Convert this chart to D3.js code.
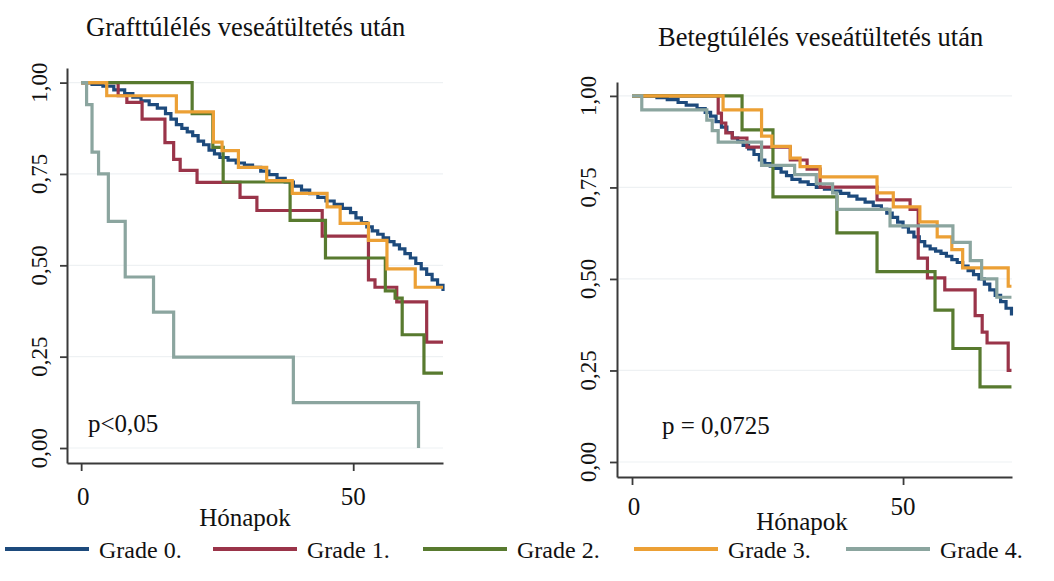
<!DOCTYPE html>
<html>
<head>
<meta charset="utf-8">
<script src="https://cdn.jsdelivr.net/npm/d3@7"></script>
<style>
  html, body { margin: 0; padding: 0; background: #fff; }
  svg { display: block; font-family: "Liberation Serif", "Times New Roman", serif; }
</style>
</head>
<body>
<svg id="chart" width="1054" height="581"></svg>
<script>
const gradeLabels = ["Grade 0.", "Grade 1.", "Grade 2.", "Grade 3.", "Grade 4."];
const gradeColors = ["#1d4a7c", "#9a3449", "#587a2f", "#eca035", "#8ba59f"];
const yTicks = [0, 0.25, 0.5, 0.75, 1];
const xTicks = [0, 50];

// Graft survival, [month, survival]
const graftGrade0 = [[0,1],[2,0.995],[4,0.99],[6,0.98],[8,0.97],[9.5,0.96],[11,0.95],[12.5,0.94],[14,0.93],
  [15.5,0.915],[16.5,0.9],[17.5,0.885],[18.5,0.875],[19.5,0.865],[20.5,0.855],[21.5,0.84],[22.5,0.83],
  [23.5,0.815],[24.5,0.805],[25.5,0.795],[27,0.788],[28.5,0.78],[30,0.774],[31.5,0.768],[33,0.758],
  [34.5,0.748],[36,0.738],[37.5,0.728],[39,0.717],[40.5,0.706],[42,0.696],[43.5,0.686],[45,0.676],
  [46.5,0.667],[48,0.656],[49.5,0.644],[50.5,0.63],[51.5,0.617],[52.5,0.605],[53.5,0.594],[54.5,0.585],
  [55.5,0.575],[56.5,0.565],[57.5,0.556],[58.5,0.545],[59.5,0.532],[60.5,0.52],[61.5,0.505],[62.5,0.49],
  [63.5,0.475],[64.5,0.46],[65.5,0.445],[66.5,0.43]];
const graftGrade1 = [[0,1],[6.8,0.964],[8.4,0.946],[11.2,0.9],[15.4,0.836],[17,0.79],[18.2,0.76],[21.3,0.727],
  [29.2,0.686],[32.3,0.65],[44.3,0.58],[52.8,0.46],[54,0.44],[58,0.4],[63.5,0.29],[66.5,0.29]];
const graftGrade2 = [[0,1],[20.4,0.915],[24.2,0.823],[26.1,0.728],[38.4,0.623],[44.9,0.52],[55.9,0.43],
  [57.7,0.41],[59,0.31],[63,0.205],[66.5,0.205]];
const graftGrade3 = [[0,1],[4.7,0.964],[17.5,0.92],[24.3,0.837],[25.9,0.814],[28.9,0.768],[34.1,0.732],
  [38.8,0.697],[45.2,0.66],[47.6,0.615],[52.8,0.568],[56.2,0.49],[61.4,0.44],[66.5,0.44]];
const graftGrade4 = [[0,1],[1,0.94],[2,0.81],[3.2,0.75],[5,0.62],[8.1,0.468],[13.3,0.372],[17,0.249],
  [39,0.124],[62,0]];

// Patient survival, [month, survival]
const patientGrade0 = [[0,1],[4.6,0.995],[6.5,0.99],[8.5,0.982],[10,0.975],[12,0.965],[13.5,0.955],
  [14.5,0.945],[15.5,0.93],[16.5,0.915],[17.5,0.9],[18.5,0.885],[19.5,0.875],[20.5,0.865],[21.5,0.855],
  [22.5,0.84],[23.5,0.825],[24.5,0.815],[25.5,0.808],[26.5,0.802],[27.5,0.792],[28.5,0.782],[29.5,0.772],
  [31,0.765],[32.5,0.758],[34,0.75],[35.5,0.745],[37,0.74],[38.5,0.734],[40,0.726],[41.5,0.718],[43,0.71],
  [44.5,0.7],[46,0.69],[47,0.68],[48,0.668],[49,0.655],[50,0.642],[51,0.628],[52,0.615],[53,0.602],
  [54,0.59],[55,0.582],[56,0.576],[57,0.57],[58,0.562],[59,0.553],[60,0.545],[61,0.535],[62,0.523],
  [63,0.512],[64,0.5],[65,0.486],[66,0.47],[67,0.455],[68,0.438],[69,0.42],[70,0.4]];
const patientGrade1 = [[0,1],[15.9,0.953],[16.5,0.926],[17.3,0.899],[18.5,0.885],[21.2,0.86],[29.2,0.825],
  [32.3,0.8],[34.7,0.751],[45.2,0.716],[51.3,0.69],[52.8,0.557],[54.5,0.503],[57.7,0.47],[63.3,0.4],
  [64.6,0.355],[65.5,0.325],[69.4,0.25],[70,0.25]];
const patientGrade2 = [[0,1],[20.3,0.907],[26,0.724],[37.8,0.626],[45.2,0.52],[55.9,0.415],[59.2,0.31],
  [64.2,0.205],[70,0.205]];
const patientGrade3 = [[0,1],[16.8,0.962],[23.9,0.89],[25.8,0.862],[29.2,0.83],[31,0.807],[34.7,0.779],
  [45.2,0.735],[48.2,0.697],[53.1,0.656],[56.3,0.615],[59,0.58],[61,0.53],[69.4,0.48],[70,0.48]];
const patientGrade4 = [[0,1],[1.8,0.962],[13.8,0.934],[14.8,0.905],[15.9,0.874],[23.9,0.81],[30,0.785],
  [34,0.76],[37,0.735],[37.8,0.69],[47.6,0.645],[59.2,0.6],[62.4,0.55],[64.5,0.5],[67.3,0.45],[70,0.45]];

const svg = d3.select("#chart");
const axisColor = "#3a3a3a";
const gridColor = "#eef1f3";

function drawPanel(opts) {
  const x = d3.scaleLinear().domain(opts.xDomain).range(opts.xRange);
  const y = d3.scaleLinear().domain(opts.yDomain).range(opts.yRange);
  const g = svg.append("g");

  // faint horizontal grid
  g.append("g")
    .selectAll("line")
    .data(yTicks)
    .join("line")
    .attr("x1", opts.xRange[0] + 2)
    .attr("x2", opts.xRange[1])
    .attr("y1", (d) => y(d))
    .attr("y2", (d) => y(d))
    .attr("stroke", gridColor)
    .attr("stroke-width", 1.2);

  const yAxis = g.append("g")
    .attr("transform", `translate(${opts.xRange[0]},0)`)
    .call(d3.axisLeft(y).tickValues(yTicks).tickSize(7).tickSizeOuter(0).tickFormat(() => ""));
  const xAxis = g.append("g")
    .attr("transform", `translate(0,${opts.yRange[0]})`)
    .call(d3.axisBottom(x).tickValues(xTicks).tickSize(8).tickSizeOuter(0).tickFormat(() => ""));
  [yAxis, xAxis].forEach((a) => {
    a.select(".domain").attr("stroke", axisColor).attr("stroke-width", 2);
    a.selectAll(".tick line").attr("stroke", axisColor).attr("stroke-width", 1.8);
  });

  // rotated y tick labels
  g.append("g")
    .selectAll("text")
    .data(yTicks)
    .join("text")
    .attr("transform", (d) => `translate(${opts.yLabelX},${y(d)}) rotate(-90)`)
    .attr("text-anchor", "middle")
    .attr("font-size", 23)
    .attr("fill", "#111")
    .text((d) => d3.format(".2f")(d).replace(".", ","));

  g.append("g")
    .selectAll("text")
    .data(xTicks)
    .join("text")
    .attr("x", (d) => x(d) + (d === 0 ? 2 : 0))
    .attr("y", opts.xLabelY)
    .attr("text-anchor", "middle")
    .attr("font-size", 25)
    .attr("fill", "#111")
    .text((d) => d);

  g.append("text")
    .attr("x", opts.xTitle[0])
    .attr("y", opts.xTitle[1])
    .attr("text-anchor", "middle")
    .attr("font-size", 25)
    .attr("fill", "#111")
    .text("Hónapok");

  g.append("text")
    .attr("x", opts.title[0])
    .attr("y", opts.title[1])
    .attr("font-size", 26.5)
    .attr("fill", "#111")
    .text(opts.titleText);

  g.append("text")
    .attr("x", opts.pPos[0])
    .attr("y", opts.pPos[1])
    .attr("font-size", 25)
    .attr("fill", "#111")
    .text(opts.pText);

  const line = d3.line()
    .x((d) => x(d[0]))
    .y((d) => y(d[1]))
    .curve(d3.curveStepAfter);

  g.append("g")
    .selectAll("path")
    .data(opts.series)
    .join("path")
    .attr("d", (d) => line(d))
    .attr("fill", "none")
    .attr("stroke", (d, i) => gradeColors[i])
    .attr("stroke-width", 3.2)
    .attr("stroke-linejoin", "miter");
}

drawPanel({
  xDomain: [-2.6, 66.5], xRange: [67, 443],
  yDomain: [-0.041, 1.04], yRange: [463, 68],
  yLabelX: 47, xLabelY: 505, xTitle: [245, 526],
  title: [86, 36], titleText: "Grafttúlélés veseátültetés után",
  pPos: [88, 432], pText: "p<0,05",
  series: [graftGrade0, graftGrade1, graftGrade2, graftGrade3, graftGrade4],
});

drawPanel({
  xDomain: [-2.77, 70.1], xRange: [617, 1012],
  yDomain: [-0.041, 1.038], yRange: [477, 82],
  yLabelX: 596, xLabelY: 515, xTitle: [802, 530],
  title: [658, 46], titleText: "Betegtúlélés veseátültetés után",
  pPos: [662, 434], pText: "p = 0,0725",
  series: [patientGrade0, patientGrade1, patientGrade2, patientGrade3, patientGrade4],
});

// legend
const legendLineX = [5, 213, 423, 634, 846];
const legend = svg.append("g").attr("transform", "translate(0,549)");
const items = legend.selectAll("g")
  .data(gradeLabels)
  .join("g")
  .attr("transform", (d, i) => `translate(${legendLineX[i]},0)`);
items.append("line")
  .attr("x1", 0).attr("x2", 84)
  .attr("stroke", (d, i) => gradeColors[i])
  .attr("stroke-width", 4);
items.append("text")
  .attr("x", 94)
  .attr("y", 9)
  .attr("font-size", 24)
  .attr("fill", "#111")
  .text((d) => d);
</script>
</body>
</html>
